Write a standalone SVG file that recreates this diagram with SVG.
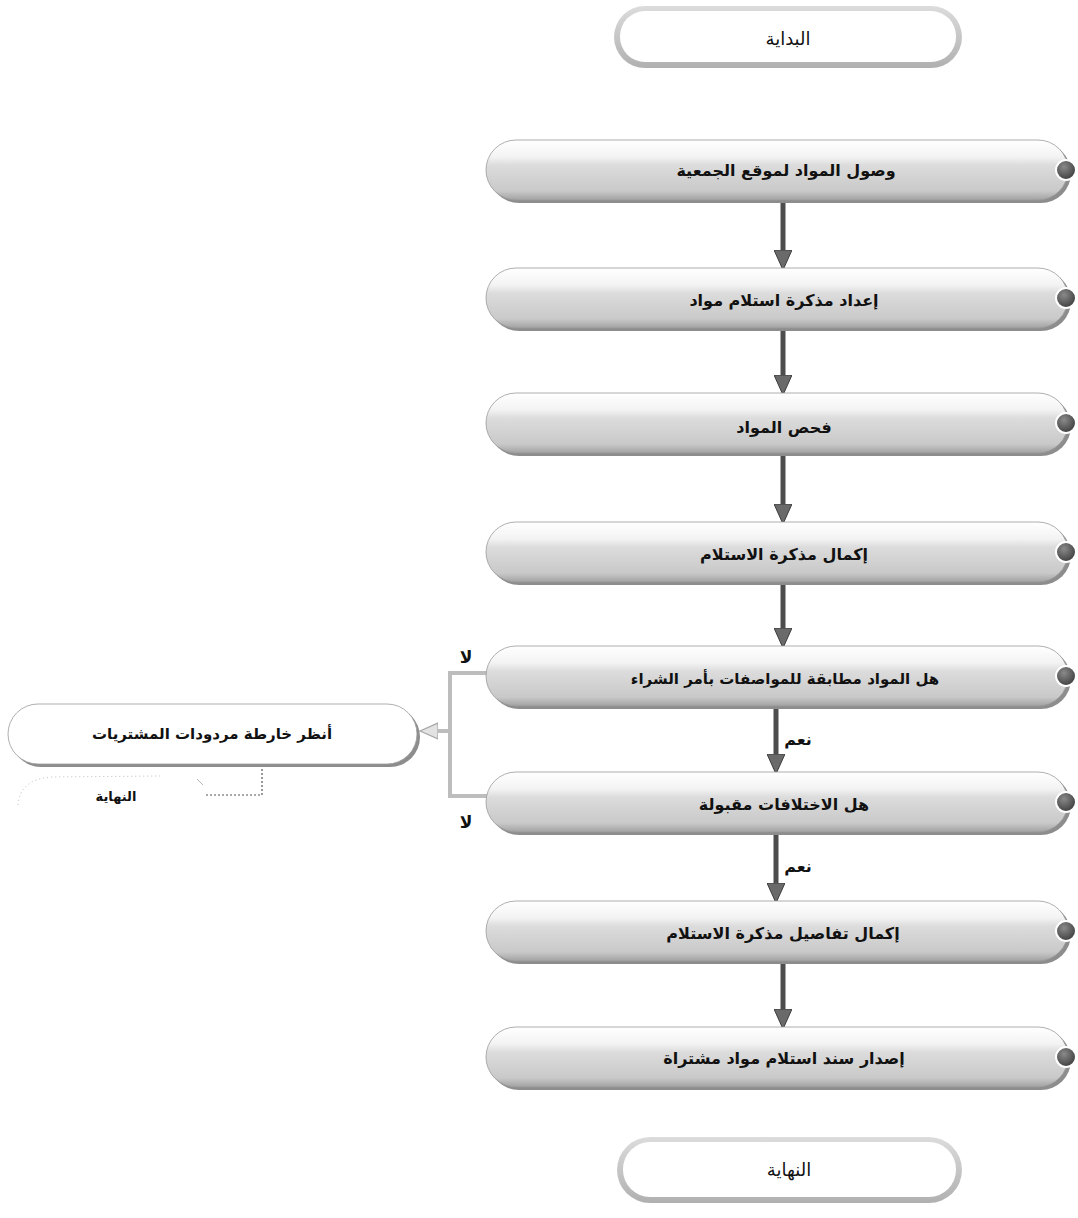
<svg xmlns="http://www.w3.org/2000/svg" width="1078" height="1218" viewBox="0 0 1078 1218">
<style>
.t{font-family:"DejaVu Sans","Noto Sans",sans-serif;font-weight:bold;fill:#111;text-anchor:middle}
.pt{font-size:16px}
.term{font-size:18px;font-weight:normal}
.lbl{font-size:17px}
.shadow{fill:#8d8d8d}
.body{fill:url(#gBody);stroke:#9a9a9a;stroke-width:0.8}
.dot{fill:url(#gDot);stroke:#fff;stroke-width:2}
.ring{fill:url(#gRing)}
.inner{fill:#fff}
.arr{stroke:#4d4d4d;stroke-width:5;fill:none}
.gl{stroke:#bdbdbd;stroke-width:4;fill:none}
</style>
<defs>
<linearGradient id="gBody" x1="0" y1="0" x2="0" y2="1">
<stop offset="0" stop-color="#ffffff"/>
<stop offset="0.28" stop-color="#f3f3f3"/>
<stop offset="0.42" stop-color="#dcdcdc"/>
<stop offset="0.85" stop-color="#c9c9c9"/>
<stop offset="1" stop-color="#a2a2a2"/>
</linearGradient>
<linearGradient id="gRing" x1="0" y1="0" x2="0" y2="1">
<stop offset="0" stop-color="#dcdcdc"/>
<stop offset="1" stop-color="#b0b0b0"/>
</linearGradient>
<radialGradient id="gDot" cx="0.4" cy="0.35" r="0.7">
<stop offset="0" stop-color="#8a8a8a"/>
<stop offset="1" stop-color="#3a3a3a"/>
</radialGradient>
<marker id="ah" viewBox="0 0 20 18" refX="0" refY="9" markerWidth="20" markerHeight="18" markerUnits="userSpaceOnUse" orient="auto">
<path d="M0,0 L20,9 L0,18 z" fill="#6a6a6a" stroke="#3c3c3c" stroke-width="1"/>
</marker>
<marker id="ahg" viewBox="0 0 20 18" refX="0" refY="9" markerWidth="20" markerHeight="18" markerUnits="userSpaceOnUse" orient="auto">
<path d="M0,1 L18,9 L0,17 z" fill="#e2e2e2" stroke="#a8a8a8" stroke-width="1.2"/>
</marker>
</defs>
<rect width="1078" height="1218" fill="#fff"/>

<g id="connectors">
<line class="arr" x1="783" y1="200" x2="783" y2="250" marker-end="url(#ah)"/>
<line class="arr" x1="783" y1="328" x2="783" y2="375" marker-end="url(#ah)"/>
<line class="arr" x1="783" y1="453" x2="783" y2="504" marker-end="url(#ah)"/>
<line class="arr" x1="783" y1="582" x2="783" y2="628" marker-end="url(#ah)"/>
<line class="arr" x1="776" y1="706" x2="776" y2="754" marker-end="url(#ah)"/>
<line class="arr" x1="776" y1="832" x2="776" y2="883" marker-end="url(#ah)"/>
<line class="arr" x1="783" y1="961" x2="783" y2="1009" marker-end="url(#ah)"/>
<path class="gl" d="M488,673 L450,673 L450,796 L488,796"/>
<line class="gl" x1="450" y1="731" x2="438" y2="731" marker-end="url(#ahg)"/>
<path d="M262,765 L262,795 L205,795" fill="none" stroke="#555" stroke-width="1.2" stroke-dasharray="2,2"/>
<text class="t lbl" x="466" y="663">لا</text>
<text class="t lbl" x="466" y="828">لا</text>
<text class="t pt" x="798" y="745">نعم</text>
<text class="t pt" x="798" y="872">نعم</text>
</g>

<g id="start">
<rect class="ring" x="614" y="6" width="348" height="62" rx="31"/>
<rect class="inner" x="620" y="11" width="336" height="51" rx="25"/>
<text class="t term" x="788" y="45">البداية</text>
</g>

<g id="n1">
<rect class="shadow" x="489" y="143" width="582" height="60" rx="30"/>
<rect class="body" x="486" y="140" width="582" height="60" rx="30"/>
<circle class="dot" cx="1066" cy="170" r="10"/>
<text class="t pt" x="786" y="176">وصول المواد لموقع الجمعية</text>
</g>

<g id="n2">
<rect class="shadow" x="489" y="271" width="582" height="60" rx="30"/>
<rect class="body" x="486" y="268" width="582" height="60" rx="30"/>
<circle class="dot" cx="1066" cy="298" r="10"/>
<text class="t pt" x="784" y="306">إعداد مذكرة استلام مواد</text>
</g>

<g id="n3">
<rect class="shadow" x="489" y="396" width="582" height="60" rx="30"/>
<rect class="body" x="486" y="393" width="582" height="60" rx="30"/>
<circle class="dot" cx="1066" cy="423" r="10"/>
<text class="t pt" x="784" y="433">فحص المواد</text>
</g>

<g id="n4">
<rect class="shadow" x="489" y="525" width="582" height="60" rx="30"/>
<rect class="body" x="486" y="522" width="582" height="60" rx="30"/>
<circle class="dot" cx="1066" cy="552" r="10"/>
<text class="t pt" x="784" y="560">إكمال مذكرة الاستلام</text>
</g>

<g id="n5">
<rect class="shadow" x="489" y="649" width="582" height="60" rx="30"/>
<rect class="body" x="486" y="646" width="582" height="60" rx="30"/>
<circle class="dot" cx="1066" cy="676" r="10"/>
<text class="t" style="font-size:15px" x="785" y="684">هل المواد مطابقة للمواصفات بأمر الشراء</text>
</g>

<g id="n6">
<rect class="shadow" x="489" y="775" width="582" height="60" rx="30"/>
<rect class="body" x="486" y="772" width="582" height="60" rx="30"/>
<circle class="dot" cx="1066" cy="802" r="10"/>
<text class="t pt" x="784" y="810">هل الاختلافات مقبولة</text>
</g>

<g id="n7">
<rect class="shadow" x="489" y="904" width="582" height="60" rx="30"/>
<rect class="body" x="486" y="901" width="582" height="60" rx="30"/>
<circle class="dot" cx="1066" cy="931" r="10"/>
<text class="t pt" x="783" y="939">إكمال تفاصيل مذكرة الاستلام</text>
</g>

<g id="n8">
<rect class="shadow" x="489" y="1030" width="582" height="60" rx="30"/>
<rect class="body" x="486" y="1027" width="582" height="60" rx="30"/>
<circle class="dot" cx="1066" cy="1057" r="10"/>
<text class="t pt" x="784" y="1064">إصدار سند استلام مواد مشتراة</text>
</g>

<g id="end">
<rect class="ring" x="617" y="1137" width="345" height="66" rx="33"/>
<rect class="inner" x="623" y="1142" width="333" height="55" rx="27"/>
<text class="t term" x="789" y="1176">النهاية</text>
</g>

<g id="side">
<rect class="shadow" x="11" y="707" width="409" height="60" rx="30"/>
<rect x="8" y="704" width="409" height="60" rx="30" fill="#fff" stroke="#9a9a9a" stroke-width="0.8"/>
<text class="t" style="font-size:15px" x="212" y="739">أنظر خارطة مردودات المشتريات</text>
</g>

<g id="side-end">
<path d="M18,805 Q20,779 52,777 L160,776" fill="none" stroke="#bbb" stroke-width="1" stroke-dasharray="1,3"/>
<line x1="197" y1="779" x2="203" y2="785" stroke="#bbb" stroke-width="1"/>
<text class="t" style="font-size:13px" x="116" y="801">النهاية</text>
</g>
</svg>
